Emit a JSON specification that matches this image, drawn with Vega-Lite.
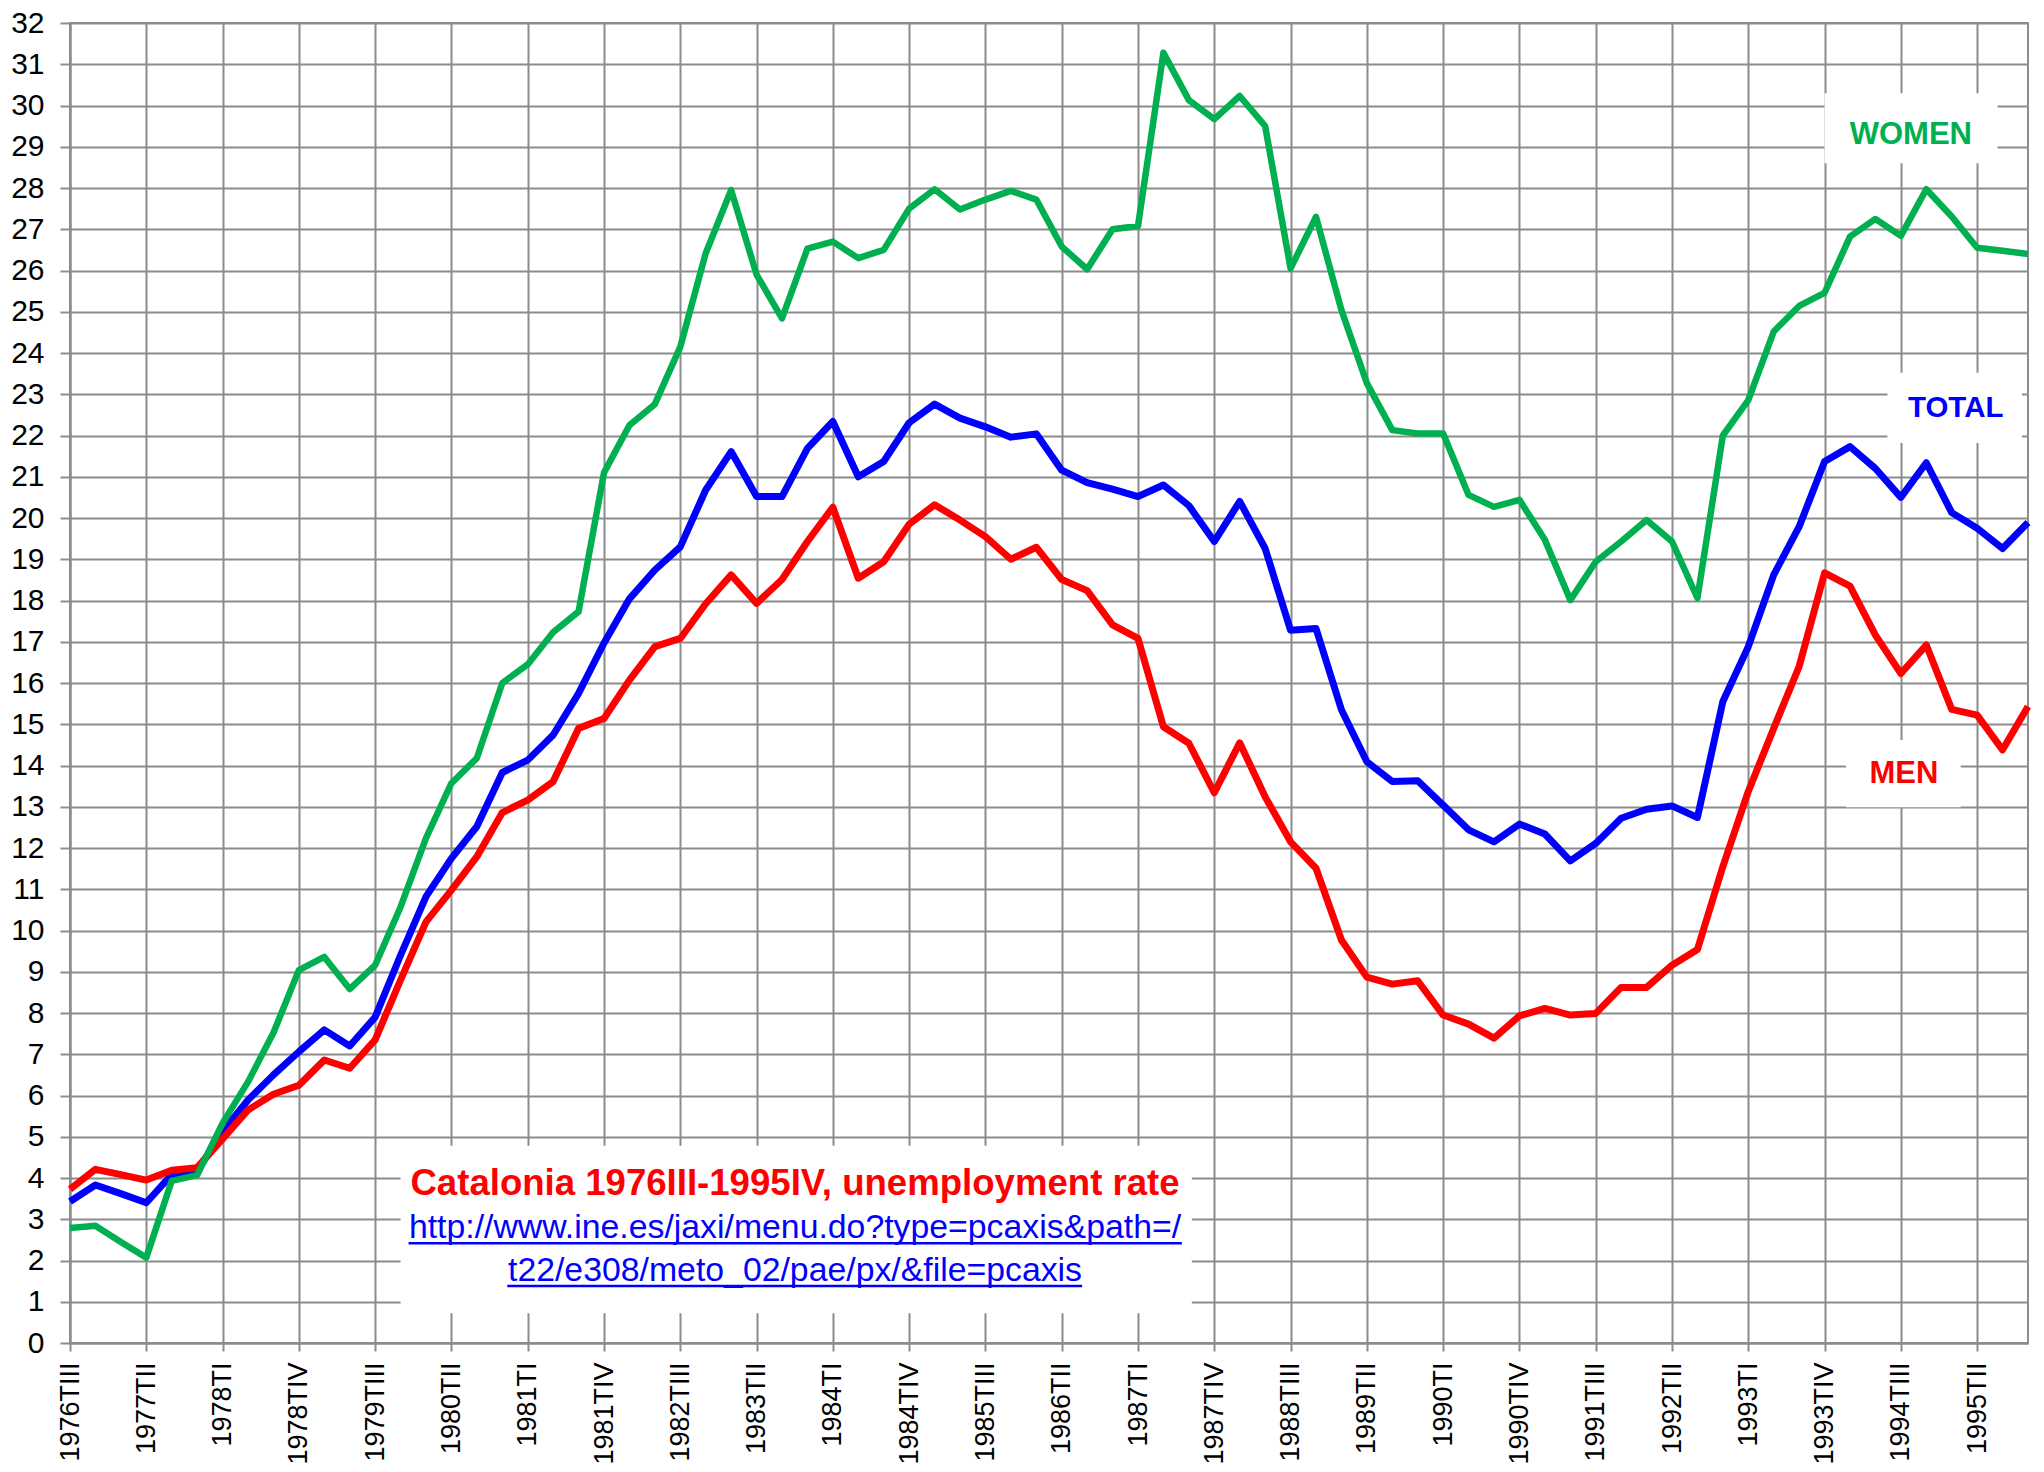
{
  "$schema": "https://vega.github.io/schema/vega-lite/v6.json",
  "width": 1958,
  "height": 1320,
  "autosize": {"type": "none"},
  "padding": {"left": 70, "top": 23, "right": 16, "bottom": 129},
  "background": "white",
  "config": {
    "view": {"stroke": "#8c8c8c", "strokeWidth": 2},
    "axis": {
      "domainColor": "#8c8c8c", "domainWidth": 2,
      "gridColor": "#8c8c8c", "gridWidth": 2, "gridOpacity": 1,
      "tickColor": "#8c8c8c", "tickWidth": 2,
      "labelColor": "#000000", "labelFont": "Liberation Sans", "labelFontSize": 28
    }
  },
  "datasets": {
    "rates": [
      {"q":"1976TIII","total":3.43,"men":3.73,"women":2.79},
      {"q":"1976TIV","total":3.83,"men":4.21,"women":2.84},
      {"q":"1977TI","total":3.62,"men":4.08,"women":2.45},
      {"q":"1977TII","total":3.40,"men":3.95,"women":2.07},
      {"q":"1977TIII","total":4.08,"men":4.19,"women":3.93},
      {"q":"1977TIV","total":4.17,"men":4.25,"women":4.07},
      {"q":"1978TI","total":5.12,"men":4.95,"women":5.33},
      {"q":"1978TII","total":5.89,"men":5.65,"women":6.33},
      {"q":"1978TIII","total":6.5,"men":6.03,"women":7.52},
      {"q":"1978TIV","total":7.06,"men":6.25,"women":9.04},
      {"q":"1979TI","total":7.59,"men":6.86,"women":9.36},
      {"q":"1979TII","total":7.2,"men":6.66,"women":8.58},
      {"q":"1979TIII","total":7.9,"men":7.35,"women":9.16},
      {"q":"1979TIV","total":9.4,"men":8.8,"women":10.57},
      {"q":"1980TI","total":10.82,"men":10.21,"women":12.24},
      {"q":"1980TII","total":11.75,"men":10.98,"women":13.57},
      {"q":"1980TIII","total":12.52,"men":11.79,"women":14.18},
      {"q":"1980TIV","total":13.83,"men":12.86,"women":16.0},
      {"q":"1981TI","total":14.13,"men":13.16,"women":16.45},
      {"q":"1981TII","total":14.74,"men":13.61,"women":17.23},
      {"q":"1981TIII","total":15.75,"men":14.9,"women":17.73},
      {"q":"1981TIV","total":16.97,"men":15.14,"women":21.1},
      {"q":"1982TI","total":18.04,"men":16.07,"women":22.25},
      {"q":"1982TII","total":18.74,"men":16.88,"women":22.76},
      {"q":"1982TIII","total":19.3,"men":17.08,"women":24.15},
      {"q":"1982TIV","total":20.68,"men":17.92,"women":26.42},
      {"q":"1983TI","total":21.61,"men":18.62,"women":27.95},
      {"q":"1983TII","total":20.52,"men":17.93,"women":25.9},
      {"q":"1983TIII","total":20.52,"men":18.51,"women":24.84},
      {"q":"1983TIV","total":21.69,"men":19.43,"women":26.53},
      {"q":"1984TI","total":22.34,"men":20.26,"women":26.7},
      {"q":"1984TII","total":21.0,"men":18.54,"women":26.3},
      {"q":"1984TIII","total":21.37,"men":18.94,"women":26.5},
      {"q":"1984TIV","total":22.31,"men":19.85,"women":27.5},
      {"q":"1985TI","total":22.76,"men":20.32,"women":27.97},
      {"q":"1985TII","total":22.42,"men":19.95,"women":27.48},
      {"q":"1985TIII","total":22.21,"men":19.55,"women":27.72},
      {"q":"1985TIV","total":21.96,"men":19.0,"women":27.93},
      {"q":"1986TI","total":22.04,"men":19.29,"women":27.72},
      {"q":"1986TII","total":21.16,"men":18.51,"women":26.58},
      {"q":"1986TIII","total":20.86,"men":18.24,"women":26.03},
      {"q":"1986TIV","total":20.7,"men":17.41,"women":27.0},
      {"q":"1987TI","total":20.52,"men":17.08,"women":27.08},
      {"q":"1987TII","total":20.8,"men":14.94,"women":31.28},
      {"q":"1987TIII","total":20.3,"men":14.54,"women":30.13},
      {"q":"1987TIV","total":19.43,"men":13.34,"women":29.67},
      {"q":"1988TI","total":20.4,"men":14.55,"women":30.23},
      {"q":"1988TII","total":19.26,"men":13.24,"women":29.5},
      {"q":"1988TIII","total":17.28,"men":12.15,"women":26.05},
      {"q":"1988TIV","total":17.32,"men":11.51,"women":27.3},
      {"q":"1989TI","total":15.35,"men":9.77,"women":25.04},
      {"q":"1989TII","total":14.09,"men":8.87,"women":23.27},
      {"q":"1989TIII","total":13.61,"men":8.7,"women":22.13},
      {"q":"1989TIV","total":13.63,"men":8.78,"women":22.05},
      {"q":"1990TI","total":13.04,"men":7.95,"women":22.05},
      {"q":"1990TII","total":12.44,"men":7.73,"women":20.56},
      {"q":"1990TIII","total":12.15,"men":7.39,"women":20.27},
      {"q":"1990TIV","total":12.58,"men":7.93,"women":20.44},
      {"q":"1991TI","total":12.34,"men":8.11,"women":19.47},
      {"q":"1991TII","total":11.69,"men":7.95,"women":18.01},
      {"q":"1991TIII","total":12.11,"men":7.99,"women":18.94},
      {"q":"1991TIV","total":12.72,"men":8.62,"women":19.43},
      {"q":"1992TI","total":12.94,"men":8.62,"women":19.95},
      {"q":"1992TII","total":13.02,"men":9.16,"women":19.43},
      {"q":"1992TIII","total":12.74,"men":9.54,"women":18.06},
      {"q":"1992TIV","total":15.55,"men":11.55,"women":22.0},
      {"q":"1993TI","total":16.88,"men":13.37,"women":22.86},
      {"q":"1993TII","total":18.62,"men":14.9,"women":24.52},
      {"q":"1993TIII","total":19.79,"men":16.4,"women":25.14},
      {"q":"1993TIV","total":21.37,"men":18.67,"women":25.46},
      {"q":"1994TI","total":21.73,"men":18.35,"women":26.82},
      {"q":"1994TII","total":21.2,"men":17.16,"women":27.25},
      {"q":"1994TIII","total":20.5,"men":16.23,"women":26.84},
      {"q":"1994TIV","total":21.34,"men":16.92,"women":27.97},
      {"q":"1995TI","total":20.13,"men":15.36,"women":27.31},
      {"q":"1995TII","total":19.75,"men":15.22,"women":26.55},
      {"q":"1995TIII","total":19.26,"men":14.38,"women":26.48},
      {"q":"1995TIV","total":19.89,"men":15.43,"women":26.4}
    ]
  },
  "layer": [
    {
      "data": {"name": "rates"},
      "mark": {"type": "line", "color": "#0000FF", "strokeWidth": 7, "strokeJoin": "round"},
      "encoding": {
        "x": {
          "field": "q", "type": "ordinal",
          "scale": {"type": "point", "padding": 0},
          "axis": {
            "title": null, "labelAngle": -90, "tickSize": 8, "labelPadding": 11, "grid": true, "labelFontSize": 27,
            "values": ["1976TIII","1977TII","1978TI","1978TIV","1979TIII","1980TII","1981TI","1981TIV","1982TIII","1983TII","1984TI","1984TIV","1985TIII","1986TII","1987TI","1987TIV","1988TIII","1989TII","1990TI","1990TIV","1991TIII","1992TII","1993TI","1993TIV","1994TIII","1995TII"]
          }
        },
        "y": {
          "field": "total", "type": "quantitative",
          "scale": {"domain": [0, 32], "nice": false, "zero": true},
          "axis": {
            "title": null, "tickSize": 10, "labelPadding": 16, "grid": true, "labelFontSize": 30,
            "values": [0,1,2,3,4,5,6,7,8,9,10,11,12,13,14,15,16,17,18,19,20,21,22,23,24,25,26,27,28,29,30,31,32]
          }
        }
      }
    },
    {
      "data": {"name": "rates"},
      "mark": {"type": "line", "color": "#FF0000", "strokeWidth": 7, "strokeJoin": "round"},
      "encoding": {
        "x": {"field": "q", "type": "ordinal"},
        "y": {"field": "men", "type": "quantitative"}
      }
    },
    {
      "data": {"name": "rates"},
      "mark": {"type": "line", "color": "#00B050", "strokeWidth": 6.5, "strokeJoin": "round"},
      "encoding": {
        "x": {"field": "q", "type": "ordinal"},
        "y": {"field": "women", "type": "quantitative"}
      }
    },
    {
      "data": {"values": [{}]},
      "mark": {"type": "rect", "color": "white", "x2Offset": 3},
      "encoding": {
        "x": {"datum": "1979TIV", "type": "ordinal"},
        "x2": {"datum": "1987TIII"},
        "y": {"datum": 0.72, "type": "quantitative"},
        "y2": {"datum": 4.78}
      }
    },
    {
      "data": {"values": [{}]},
      "mark": {"type": "rect", "color": "white", "x2Offset": -5},
      "encoding": {
        "x": {"datum": "1993TIV", "type": "ordinal"},
        "x2": {"datum": "1995TIII"},
        "y": {"datum": 28.6, "type": "quantitative"},
        "y2": {"datum": 30.3}
      }
    },
    {
      "data": {"values": [{}]},
      "mark": {"type": "rect", "color": "white", "xOffset": 12, "x2Offset": -6},
      "encoding": {
        "x": {"datum": "1994TII", "type": "ordinal"},
        "x2": {"datum": "1995TIV"},
        "y": {"datum": 21.82, "type": "quantitative"},
        "y2": {"datum": 23.52}
      }
    },
    {
      "data": {"values": [{}]},
      "mark": {"type": "rect", "color": "white", "xOffset": -4, "x2Offset": 9},
      "encoding": {
        "x": {"datum": "1994TI", "type": "ordinal"},
        "x2": {"datum": "1995TI"},
        "y": {"datum": 12.99, "type": "quantitative"},
        "y2": {"datum": 14.62}
      }
    },
    {
      "data": {"values": [{}]},
      "mark": {"type": "text", "text": "Catalonia 1976III-1995IV, unemployment rate", "font": "Liberation Sans", "fontWeight": "bold", "fontSize": 36.6, "color": "#FF0000", "align": "center", "baseline": "alphabetic", "dx": 13},
      "encoding": {
        "x": {"datum": "1983TIII", "type": "ordinal"},
        "y": {"datum": 3.59, "type": "quantitative"}
      }
    },
    {
      "data": {"values": [{}]},
      "mark": {"type": "text", "text": "http://www.ine.es/jaxi/menu.do?type=pcaxis&path=/", "font": "Liberation Sans", "fontSize": 33.8, "color": "#0000FF", "align": "center", "baseline": "alphabetic", "dx": 13},
      "encoding": {
        "x": {"datum": "1983TIII", "type": "ordinal"},
        "y": {"datum": 2.55, "type": "quantitative"}
      }
    },
    {
      "data": {"values": [{}]},
      "mark": {"type": "text", "text": "t22/e308/meto_02/pae/px/&file=pcaxis", "font": "Liberation Sans", "fontSize": 33.8, "color": "#0000FF", "align": "center", "baseline": "alphabetic", "dx": 13},
      "encoding": {
        "x": {"datum": "1983TIII", "type": "ordinal"},
        "y": {"datum": 1.50, "type": "quantitative"}
      }
    },
    {
      "data": {"values": [{}]},
      "mark": {"type": "rule", "color": "#0000FF", "strokeWidth": 2.5, "xOffset": 8, "x2Offset": -7},
      "encoding": {
        "x": {"datum": "1979TIV", "type": "ordinal"},
        "x2": {"datum": "1987TIII"},
        "y": {"datum": 2.42, "type": "quantitative"}
      }
    },
    {
      "data": {"values": [{}]},
      "mark": {"type": "rule", "color": "#0000FF", "strokeWidth": 2.5, "xOffset": 5, "x2Offset": -5},
      "encoding": {
        "x": {"datum": "1980TIV", "type": "ordinal"},
        "x2": {"datum": "1986TIII"},
        "y": {"datum": 1.38, "type": "quantitative"}
      }
    },
    {
      "data": {"values": [{}]},
      "mark": {"type": "text", "text": "WOMEN", "font": "Liberation Sans", "fontWeight": "bold", "fontSize": 31, "color": "#00B050", "align": "center", "baseline": "alphabetic", "dx": 10},
      "encoding": {
        "x": {"datum": "1994TIII", "type": "ordinal"},
        "y": {"datum": 29.07, "type": "quantitative"}
      }
    },
    {
      "data": {"values": [{}]},
      "mark": {"type": "text", "text": "TOTAL", "font": "Liberation Sans", "fontWeight": "bold", "fontSize": 29.5, "color": "#0000FF", "align": "center", "baseline": "alphabetic", "dx": 4},
      "encoding": {
        "x": {"datum": "1995TI", "type": "ordinal"},
        "y": {"datum": 22.46, "type": "quantitative"}
      }
    },
    {
      "data": {"values": [{}]},
      "mark": {"type": "text", "text": "MEN", "font": "Liberation Sans", "fontWeight": "bold", "fontSize": 31, "color": "#FF0000", "align": "center", "baseline": "alphabetic", "dx": 3},
      "encoding": {
        "x": {"datum": "1994TIII", "type": "ordinal"},
        "y": {"datum": 13.57, "type": "quantitative"}
      }
    }
  ]
}
